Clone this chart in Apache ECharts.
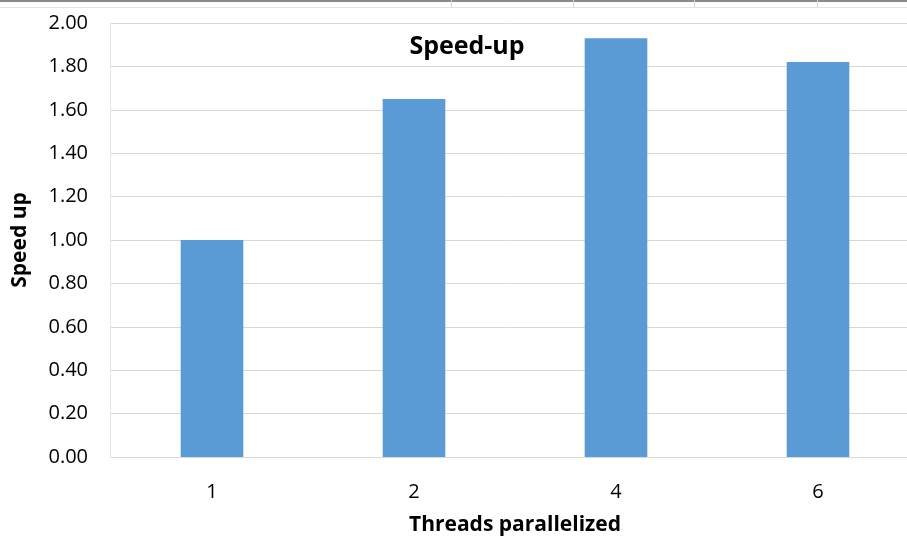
<!DOCTYPE html>
<html>
<head>
<meta charset="utf-8">
<script src="https://cdn.jsdelivr.net/npm/echarts@6/dist/echarts.min.js"></script>
<style>
    html, body { margin: 0; padding: 0; background: #fff; }
    #chart { width: 907px; height: 542px; }
</style>
</head>
<body>
<div id="chart"></div>
<script>
    // 数据
    var threads = ['1', '2', '4', '6'];
    var speedup = [1.00, 1.65, 1.93, 1.82];
    var yTicks = { min: 0, max: 2, interval: 0.2 };

    var font = '"Open Sans", "Liberation Sans", sans-serif';
    var myChart = echarts.init(document.getElementById('chart'));
    myChart.setOption({
        animation: false,
        backgroundColor: '#fff',
        title: {
            text: 'Speed-up',
            left: 462,
            textAlign: 'center',
            top: 29,
            textStyle: { fontFamily: font, fontSize: 25, fontWeight: 'bold', color: '#000' }
        },
        // spreadsheet cell borders at the top
        graphic: [
            { type: 'line', shape: { x1: 0, y1: 1, x2: 907, y2: 1 }, style: { stroke: '#8a8a8a', lineWidth: 2 } },
            { type: 'line', shape: { x1: 0, y1: 7.5, x2: 907, y2: 7.5 }, style: { stroke: '#e3e3e3', lineWidth: 1 } },
            { type: 'line', shape: { x1: 451.5, y1: 0, x2: 451.5, y2: 7 }, style: { stroke: '#d4d4d4', lineWidth: 1 } },
            { type: 'line', shape: { x1: 573.5, y1: 0, x2: 573.5, y2: 7 }, style: { stroke: '#d4d4d4', lineWidth: 1 } },
            { type: 'line', shape: { x1: 694.5, y1: 0, x2: 694.5, y2: 7 }, style: { stroke: '#d4d4d4', lineWidth: 1 } },
            { type: 'line', shape: { x1: 817.5, y1: 0, x2: 817.5, y2: 7 }, style: { stroke: '#d4d4d4', lineWidth: 1 } },
            { type: 'rect', shape: { x: 110.5, y: 23.5, width: 820, height: 434 }, style: { fill: 'none', stroke: '#dce6f2', lineWidth: 1 }, z: -1 }
        ],
        grid: {
            left: 111,
            top: 23,
            width: 808,
            bottom: 85,
            outerBoundsMode: 'none'
        },
        xAxis: {
            type: 'category',
            data: threads,
            name: 'Threads parallelized',
            nameLocation: 'middle',
            nameGap: 58,
            nameTextStyle: { fontFamily: font, fontSize: 21, fontWeight: 'bold', color: '#000' },
            axisLine: { lineStyle: { color: '#d9d9d9', width: 1 } },
            axisTick: { show: false },
            axisLabel: { margin: 25, fontFamily: font, fontSize: 20, color: '#000' }
        },
        yAxis: {
            type: 'value',
            min: yTicks.min,
            max: yTicks.max,
            interval: yTicks.interval,
            name: 'Speed up',
            nameLocation: 'middle',
            nameGap: 80,
            nameTextStyle: { fontFamily: font, fontSize: 21, fontWeight: 'bold', color: '#000' },
            axisLine: { show: false },
            axisTick: { show: false },
            axisLabel: {
                margin: 23,
                fontFamily: font,
                fontSize: 20,
                color: '#000',
                formatter: function (v) { return v.toFixed(2); }
            },
            splitLine: { lineStyle: { color: '#d9d9d9', width: 1 } }
        },
        series: [{
            type: 'bar',
            data: speedup,
            barWidth: '31%',
            itemStyle: { color: '#5b9bd5' }
        }]
    });
</script>
</body>
</html>
